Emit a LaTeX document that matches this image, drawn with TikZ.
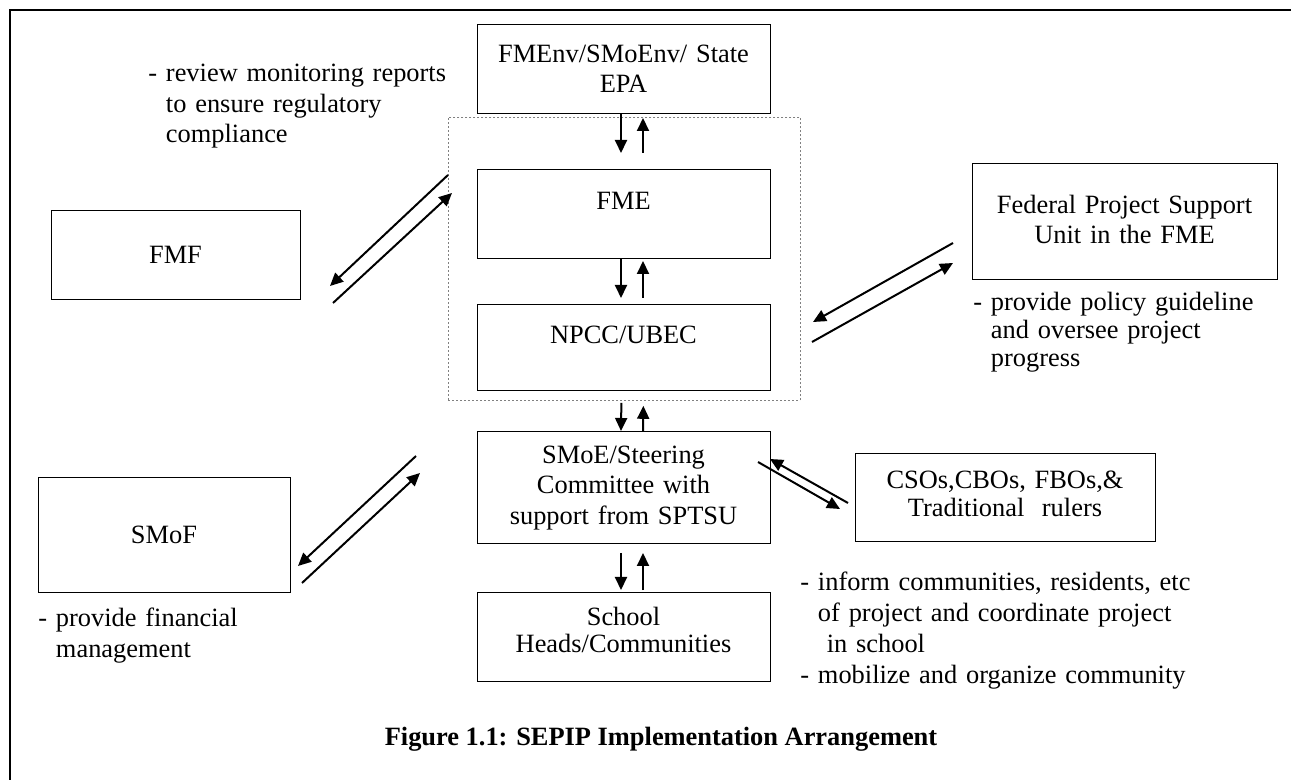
\documentclass[tikz,border=0pt]{standalone}
\usepackage{fontspec}
\setmainfont{Liberation Serif}
\usetikzlibrary{arrows.meta}

\begin{document}
\begin{tikzpicture}[x=0.5pt,y=-0.5pt,
    every node/.style={font=\fontsize{13.2}{15.2}\selectfont},
    box/.style={draw, line width=0.5pt, align=center, inner sep=0pt, anchor=north},
    note/.style={anchor=base west, align=left, inner sep=0pt, text width=200pt},
    arr/.style={line width=1pt, -{Triangle[length=6.5pt,width=6pt]}}]
    \useasboundingbox (0,0) rectangle (1291,780);

    % Frame
    \draw[line width=1.2pt] (10,780) -- (10,10) -- (1291,10);

    % Centre column
    \node[box, text width=146.5pt, text height=19pt, text depth=25.5pt] (fmenv) at (623.5,24) {FMEnv/SMoEnv/ State\\EPA};
    \node[draw=gray, dash pattern=on 1pt off 1pt, line width=0.4pt, minimum width=176pt, minimum height=141.5pt,
          inner sep=0pt, anchor=north west] (core) at (448,117) {};
    \node[box, text width=146.5pt, text height=20pt, text depth=24.5pt] (fme) at (623.5,169) {FME};
    \node[box, text width=146.5pt, text height=19.5pt, text depth=23.5pt] (npcc) at (623.5,304) {NPCC/UBEC};
    \node[box, text width=146.5pt, text height=16pt, text depth=40pt] (smoe) at (623.5,431) {SMoE/Steering\\Committee with\\support from SPTSU};
    \node[box, text width=146.5pt, text height=16.5pt, text depth=28pt, font=\fontsize{13.2}{13.5}\selectfont] (school) at (623.5,592) {School\\Heads/Communities};

    % Side boxes
    \node[box, text width=124.5pt, text height=26.5pt, text depth=18pt] (fmf) at (175.5,210) {FMF};
    \node[box, text width=126pt, text height=33pt, text depth=24.5pt] (smof) at (164,477) {SMoF};
    \node[box, text width=152.5pt, text height=25pt, text depth=33pt] (fpsu) at (1124.5,163) {Federal Project Support\\Unit in the FME};
    \node[box, text width=150pt, text height=17.5pt, text depth=26.5pt, font=\fontsize{13.2}{14}\selectfont] (csos) at (1005,453) {CSOs,CBOs, FBOs,\&\\Traditional\ \ rulers};

    % Notes
    \node[note, font=\fontsize{13.2}{15.25}\selectfont] (review) at (148,82) {- review monitoring reports\\\phantom{- }to ensure regulatory\\\phantom{- }compliance};
    \node[note, font=\fontsize{13.2}{14}\selectfont] (policy) at (973,311) {- provide policy guideline\\\phantom{- }and oversee project\\\phantom{- }progress};
    \node[note, font=\fontsize{13.2}{15.5}\selectfont] (inform) at (800,590) {- inform communities, residents, etc\\\phantom{- }of project and coordinate project\\\phantom{- } in school\\- mobilize and organize community};
    \node[note, font=\fontsize{13.2}{15.5}\selectfont] (finance) at (38,626) {- provide financial\\\phantom{- }management};

    % Caption
    \node[anchor=base, inner sep=0pt, font=\fontsize{13.2}{15.2}\selectfont\bfseries] (caption) at (661,745) {Figure 1.1: SEPIP Implementation Arrangement};

    % Vertical links
    \draw[arr, shorten >=8pt] ([xshift=-1.25pt]fmenv.south) -- ([xshift=-1.25pt]fme.north);
    \draw[arr, shorten <=8pt, shorten >=2pt] ([xshift=9.75pt]fme.north) -- ([xshift=9.75pt]fmenv.south);
    \draw[arr, shorten >=3pt] ([xshift=-1.25pt]fme.south) -- ([xshift=-1.25pt]npcc.north);
    \draw[arr, shorten <=3pt, shorten >=1pt] ([xshift=9.75pt]npcc.north) -- ([xshift=9.75pt]fme.south);
    \draw[arr, shorten <=1pt] ([xshift=-1.5pt]core.south) -- ([xshift=-1.25pt]smoe.north);
    \draw[arr, shorten >=2.5pt] ([xshift=9.75pt]smoe.north) -- ([xshift=9.5pt]core.south);
    \draw[arr, shorten <=4.5pt, shorten >=1pt] ([xshift=-1.25pt]smoe.south) -- ([xshift=-1.25pt]school.north);
    \draw[arr, shorten <=1pt, shorten >=4.5pt] ([xshift=9.75pt]school.north) -- ([xshift=9.75pt]smoe.south);

    % Diagonal links
    \coordinate (fmf1) at (448,175);  \coordinate (fmf2) at (330,286);
    \coordinate (fmf3) at (333,303);  \coordinate (fmf4) at (452,193);
    \coordinate (smof1) at (416,456); \coordinate (smof2) at (298,566);
    \coordinate (smof3) at (302,583); \coordinate (smof4) at (420,473);
    \coordinate (fpsu1) at (953,243); \coordinate (fpsu2) at (813,322);
    \coordinate (fpsu3) at (812,342); \coordinate (fpsu4) at (953,263);
    \coordinate (csos1) at (848,503); \coordinate (csos2) at (770,459);
    \coordinate (csos3) at (758,462); \coordinate (csos4) at (840,509);

    \draw[arr] (fmf1) -- (fmf2);
    \draw[arr] (fmf3) -- (fmf4);
    \draw[arr] (smof1) -- (smof2);
    \draw[arr] (smof3) -- (smof4);
    \draw[arr] (fpsu1) -- (fpsu2);
    \draw[arr] (fpsu3) -- (fpsu4);
    \draw[arr] (csos1) -- (csos2);
    \draw[arr] (csos3) -- (csos4);

\end{tikzpicture}
\end{document}
